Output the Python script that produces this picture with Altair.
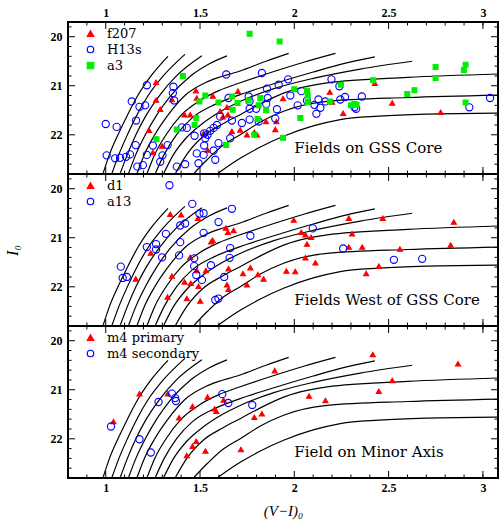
import altair as alt
import pandas as pd

# ---------------- data ----------------
# isochrone curves (V-I)_0, I_0
curve_x = [
    [0.985, 1.02, 1.065, 1.115, 1.17, 1.24, 1.33],
    [1.032, 1.07, 1.115, 1.165, 1.225, 1.305, 1.42],
    [1.076, 1.115, 1.16, 1.215, 1.285, 1.375, 1.51],
    [1.12, 1.16, 1.21, 1.27, 1.345, 1.45, 1.55, 1.643],
    [1.165, 1.205, 1.26, 1.33, 1.42, 1.55, 1.713, 1.85, 1.97],
    [1.218, 1.26, 1.32, 1.4, 1.5, 1.6, 1.713, 1.9, 2.05, 2.218],
    [1.262, 1.31, 1.375, 1.46, 1.58, 1.713, 1.9, 2.1, 2.25, 2.427],
    [1.306, 1.36, 1.43, 1.52, 1.62, 1.713, 1.9, 2.1, 2.35, 2.625],
    [1.368, 1.43, 1.52, 1.62, 1.713, 1.82, 1.943, 2.174, 2.6, 3.08],
    [1.465, 1.54, 1.62, 1.713, 1.82, 1.943, 2.174, 2.6, 3.08],
    [1.59, 1.713, 1.82, 1.943, 2.1, 2.244, 2.45, 2.7, 3.08],
]
curve_y = [
    [22.8, 22.4, 22.0, 21.6, 21.2, 20.8, 20.4],
    [22.8, 22.4, 22.0, 21.6, 21.2, 20.8, 20.36],
    [22.8, 22.4, 22.0, 21.6, 21.2, 20.8, 20.39],
    [22.8, 22.4, 22.0, 21.6, 21.2, 20.8, 20.55, 20.39],
    [22.8, 22.4, 22.0, 21.6, 21.2, 20.9, 20.70, 20.5, 20.34],
    [22.8, 22.4, 22.0, 21.6, 21.3, 21.1, 20.94, 20.7, 20.52, 20.34],
    [22.8, 22.4, 22.0, 21.65, 21.38, 21.18, 20.95, 20.72, 20.56, 20.41],
    [22.8, 22.4, 22.05, 21.75, 21.5, 21.32, 21.05, 20.85, 20.66, 20.5],
    [22.8, 22.4, 22.02, 21.78, 21.59, 21.37, 21.15, 20.94, 20.83, 20.76],
    [22.8, 22.5, 22.22, 22.0, 21.74, 21.52, 21.32, 21.24, 21.19],
    [22.8, 22.48, 22.25, 22.03, 21.82, 21.69, 21.62, 21.58, 21.56],
]

# Panel 1: Fields on GSS Core
f207_x = [1.267, 1.267, 1.289, 1.230, 1.250, 1.299, 1.351, 1.418, 1.448, 1.478, 1.483, 1.519,
          1.540, 1.568, 1.607, 1.621, 1.643, 1.648, 1.669, 1.713, 1.749, 1.701,
          1.788, 1.802, 1.850, 1.899, 1.905, 1.940, 2.188, 2.200, 2.259, 2.427, 2.519, 2.776]
f207_y = [20.93, 21.29, 21.48, 21.91, 22.36, 22.23, 21.28, 21.59, 21.59, 21.10, 21.25, 21.97,
          22.31, 21.21, 21.52, 21.63, 21.44, 21.59, 21.93, 21.90, 22.00, 21.11,
          21.95, 22.00, 21.73, 21.89, 21.73, 21.26, 21.13, 21.33, 21.56, 20.95, 21.35, 21.54]
h13s_x = [1.218, 1.138, 1.209, 1.179, 1.161, 1.000, 1.058, 1.159, 1.005, 1.050, 1.076, 1.108,
          1.129, 1.168, 1.197, 1.218, 1.250, 1.289, 1.301, 1.328, 1.359, 1.356, 1.363, 1.377,
          1.421, 1.404, 1.430, 1.471, 1.483, 1.492, 1.519, 1.522, 1.528, 1.522, 1.540, 1.554,
          1.572, 1.572, 1.581, 1.598, 1.590, 1.607, 1.639, 1.651, 1.660, 1.669, 1.722, 1.758,
          1.763, 1.763, 1.763,
          1.828, 1.798, 1.855, 1.859, 1.851, 1.917, 1.967, 1.979, 2.037, 2.067, 2.018, 2.106,
          2.117, 2.128, 2.138, 2.165, 2.197, 2.239, 2.244, 2.269, 2.319, 2.328, 2.358, 1.811,
          1.908, 1.899, 3.038, 2.928]
h13s_y = [20.99, 21.32, 21.40, 21.43, 21.71, 21.78, 21.84, 22.21, 22.42, 22.48, 22.47, 22.45,
          22.40, 22.65, 22.62, 22.41, 22.22, 22.55, 22.42, 22.21, 21.02, 21.15, 21.30, 22.65,
          22.60, 21.85, 21.86, 22.02, 22.38, 22.58, 22.41, 22.22, 22.07, 21.97, 22.00, 21.92,
          21.86, 22.32, 22.51, 22.17, 21.80, 21.63, 20.77, 21.25, 22.07, 21.71, 21.76, 21.22,
          21.32, 21.47, 21.69,
          20.74, 21.47, 21.06, 21.25, 21.37, 20.98, 20.87, 21.20, 21.11, 21.30, 21.40, 21.39,
          21.57, 21.28, 21.45, 21.32, 20.87, 21.01, 21.28, 21.23, 21.44, 21.47, 21.22, 21.73,
          21.48, 21.67, 21.25, 21.44]
a3_x = [1.409, 1.269, 1.377, 1.471, 1.480, 1.497, 1.528, 1.598, 1.669, 1.673, 1.699, 1.763,
        1.758, 1.639, 1.922, 1.820, 1.811, 1.851, 1.805, 1.788, 2.000, 2.032, 2.067, 2.071,
        2.071, 2.188, 2.248, 2.301, 2.319, 2.330, 2.418, 2.599, 2.637, 2.749, 2.749, 2.899,
        2.908, 2.908, 1.940]
a3_y = [20.80, 22.09, 21.89, 21.80, 21.66, 21.32, 21.20, 21.34, 21.22, 21.49, 21.35, 19.94,
        21.30, 22.21, 20.10, 21.25, 21.40, 21.50, 21.68, 22.00, 21.07, 21.66, 21.10, 21.20,
        21.33, 21.32, 20.98, 21.40, 21.37, 21.39, 20.89, 21.17, 21.09, 20.62, 20.84, 20.68,
        20.57, 21.34, 22.06]

# Panel 2: Fields West of GSS Core
d1_x = [1.342, 1.400, 1.489, 1.637, 1.648, 1.678, 1.567, 1.559, 1.239, 1.159, 1.351, 1.448,
        1.418, 1.451, 1.483, 1.531, 1.651, 1.643, 1.492, 1.651, 1.328, 1.430, 1.501, 1.728,
        1.749, 1.767, 1.997, 2.037, 2.059, 2.089, 2.067, 2.059, 2.112, 1.958, 2.005, 1.807,
        1.837, 2.289, 2.306, 2.289, 2.360, 2.381, 2.448, 2.469, 2.560, 2.829, 2.846]
d1_y = [20.52, 20.53, 20.60, 20.80, 20.89, 20.85, 21.05, 21.08, 21.31, 21.84, 21.78, 21.40,
        21.90, 21.93, 21.67, 21.67, 21.63, 21.96, 21.99, 22.05, 22.21, 22.24, 22.29, 21.73,
        21.96, 21.61, 20.64, 20.89, 20.94, 20.99, 21.13, 21.41, 21.51, 21.68, 21.69, 21.75,
        21.84, 20.60, 20.92, 21.19, 21.19, 21.73, 21.58, 20.60, 21.23, 21.15, 20.68]
a13_x = [1.338, 1.459, 1.497, 1.519, 1.669, 1.421, 1.395, 1.598, 1.519, 1.319, 1.395, 1.267,
         1.218, 1.267, 1.389, 1.299, 1.469, 1.469, 1.558, 1.660, 1.657, 1.767, 1.080, 1.090,
         1.112, 1.480, 1.510, 1.628, 1.581, 1.598, 2.098, 2.259, 2.528, 2.678]
a13_y = [19.93, 20.31, 20.51, 20.50, 20.41, 20.71, 20.75, 20.68, 20.90, 20.92, 21.09, 21.13,
         21.19, 21.24, 21.36, 21.40, 21.42, 21.58, 21.56, 21.21, 21.41, 20.96, 21.59, 21.82,
         21.80, 21.76, 21.86, 21.80, 22.27, 22.24, 20.81, 21.22, 21.45, 21.43]

# Panel 3: Field on Minor Axis
m4p_x = [1.041, 1.179, 1.329, 1.389, 1.460, 1.540, 1.577, 1.586, 1.625, 1.430, 1.480, 1.460,
         1.529, 1.717, 1.896, 1.788, 1.828, 2.078, 2.165, 2.416, 2.448, 2.519, 2.868]
m4p_y = [21.65, 21.08, 21.08, 21.57, 21.34, 21.15, 21.39, 21.44, 21.21, 22.34, 22.05, 22.15,
         22.25, 22.22, 20.61, 21.56, 21.49, 21.13, 21.22, 20.28, 21.03, 20.81, 20.47]
m4s_x = [1.028, 1.179, 1.239, 1.280, 1.351, 1.368, 1.372, 1.618, 1.650, 1.777]
m4s_y = [21.75, 22.01, 22.28, 21.25, 21.08, 21.17, 21.23, 21.09, 21.27, 21.31]

panel_labels = ["Fields on GSS Core", "Fields West of GSS Core", "Field on Minor Axis"]
label_pos = (2.0, 22.27)

x_major = [1.0, 1.5, 2.0, 2.5, 3.0]
x_minor = [0.9, 1.1, 1.2, 1.3, 1.4, 1.6, 1.7, 1.8, 1.9, 2.1, 2.2, 2.3, 2.4, 2.6, 2.7,
           2.8, 2.9, 3.0]
y_major = [20, 21, 22]
y_minor = [19.8, 20.2, 20.4, 20.6, 20.8, 21.2, 21.4, 21.6, 21.8, 22.2, 22.4, 22.6]

# ---------------- styling ----------------
W, H = 430, 152
XDOM = [0.8, 3.08]
YDOM = [19.7, 22.8]
RED, BLUE, GREEN = "#ff0000", "#0000ff", "#00ee00"
SERIF = "Liberation Serif"
WIDE = "DejaVu Serif"

xs = alt.Scale(domain=XDOM, nice=False, zero=False)
ys = alt.Scale(domain=YDOM, nice=False, zero=False, reverse=True)

curve_rows = []
for ci, (cx, cy) in enumerate(zip(curve_x, curve_y)):
    for k, (a, b) in enumerate(zip(cx, cy)):
        curve_rows.append({"c": ci, "k": k, "x": a, "y": b})
curve_df = pd.DataFrame(curve_rows)

xt_df = pd.DataFrame({"v": x_major + x_minor,
                      "s": [14] * len(x_major) + [7] * len(x_minor)})
yt_df = pd.DataFrame({"v": y_major + y_minor,
                      "s": [14] * len(y_major) + [7] * len(y_minor)})


def panel(series, idx, xaxis, ytitle):
    names = [s[0] for s in series]

    leg = alt.Legend(title=None, orient="none", legendX=16, legendY=5,
                     labelFont=WIDE, labelFontSize=13, labelOffset=10,
                     rowPadding=2, padding=0, symbolStrokeWidth=1.2,
                     symbolSize=42, labelColor="black")
    dom = names
    shape_sc = alt.Scale(domain=dom, range=[s[3] for s in series])
    fill_sc = alt.Scale(domain=dom, range=[s[4] for s in series])
    stroke_sc = alt.Scale(domain=dom, range=[s[5] for s in series])

    yaxis = alt.Axis(values=y_major, ticks=False, domain=False, grid=False,
                     labelFont=SERIF, labelFontWeight="bold", labelFontSize=12,
                     labelPadding=6, labelColor="black",
                     title=ytitle if ytitle else None,
                     titleFont=SERIF, titleFontStyle="italic", titleFontWeight="normal",
                     titleFontSize=16, titlePadding=30, titleColor="black")
    if xaxis is None:
        xax = None
    else:
        xax = alt.Axis(orient=xaxis, values=x_major, format="~g", ticks=False,
                       domain=False, grid=False, labelFont=SERIF,
                       labelFontWeight="bold", labelFontSize=12,
                       labelPadding=4 if xaxis == "bottom" else 3, labelColor="black",
                       title="(V\u2212I)\u2080" if xaxis == "bottom" else None,
                       titleFont=SERIF, titleFontStyle="italic",
                       titleFontWeight="normal", titleFontSize=15,
                       titlePadding=10, titleColor="black")

    def X(f):
        return alt.X(f, scale=xs, axis=xax)

    def Y(f):
        return alt.Y(f, scale=ys, axis=yaxis)

    curves = alt.Chart(curve_df).mark_line(
        color="black", strokeWidth=1.2, clip=True, interpolate="monotone"
    ).encode(x=X("x:Q"), y=Y("y:Q"), detail="c:N", order="k:Q")

    point_layers = []
    for name, sx, sy, shp, fil, stk, sz in series:
        df = pd.DataFrame({"series": [name] * len(sx), "x": sx, "y": sy})
        point_layers.append(
            alt.Chart(df).mark_point(opacity=1, strokeWidth=1.1, size=sz).encode(
                x=X("x:Q"),
                y=Y("y:Q"),
                shape=alt.Shape("series:N", scale=shape_sc, legend=leg),
                fill=alt.Fill("series:N", scale=fill_sc, legend=leg),
                stroke=alt.Stroke("series:N", scale=stroke_sc, legend=leg),
            )
        )

    lab_df = pd.DataFrame({"x": [label_pos[0]], "y": [label_pos[1]],
                           "t": [panel_labels[idx]]})
    lab = alt.Chart(lab_df).mark_text(
        align="left", baseline="middle", font=WIDE, fontSize=15, color="black"
    ).encode(x=X("x:Q"), y=Y("y:Q"), text="t:N")

    tk = dict(color="black", thickness=1, clip=True, opacity=1)
    top = alt.Chart(xt_df).mark_tick(orient="vertical", **tk).encode(
        x=X("v:Q"), y=alt.value(0), size=alt.Size("s:Q", scale=None))
    bot = alt.Chart(xt_df).mark_tick(orient="vertical", **tk).encode(
        x=X("v:Q"), y=alt.value(H), size=alt.Size("s:Q", scale=None))
    lef = alt.Chart(yt_df).mark_tick(orient="horizontal", **tk).encode(
        y=Y("v:Q"), x=alt.value(0), size=alt.Size("s:Q", scale=None))
    rig = alt.Chart(yt_df).mark_tick(orient="horizontal", **tk).encode(
        y=Y("v:Q"), x=alt.value(W), size=alt.Size("s:Q", scale=None))

    return alt.layer(curves, top, bot, lef, rig, lab, *point_layers).properties(
        width=W, height=H)


p1 = panel([
    ("f207", f207_x, f207_y, "triangle-up", RED, RED, 26),
    ("H13s", h13s_x, h13s_y, "circle", "transparent", BLUE, 52),
    ("a3", a3_x, a3_y, "square", GREEN, GREEN, 24),
], 0, "top", None)
p2 = panel([
    ("d1", d1_x, d1_y, "triangle-up", RED, RED, 26),
    ("a13", a13_x, a13_y, "circle", "transparent", BLUE, 52),
], 1, None, "I\u2080")
p3 = panel([
    ("m4 primary", m4p_x, m4p_y, "triangle-up", RED, RED, 26),
    ("m4 secondary", m4s_x, m4s_y, "circle", "transparent", BLUE, 52),
], 2, "bottom", None)

chart = alt.vconcat(p1, p2, p3, spacing=0, bounds="flush").resolve_scale(
    shape="independent", fill="independent", stroke="independent"
).resolve_legend(
    shape="independent", fill="independent", stroke="independent"
).configure_view(
    stroke="black", strokeWidth=2
).properties(
    padding={"left": 3, "top": 5, "right": 0, "bottom": 5}, background="white"
)

chart.save("out.html", embed_options={"renderer": "svg", "actions": False})
